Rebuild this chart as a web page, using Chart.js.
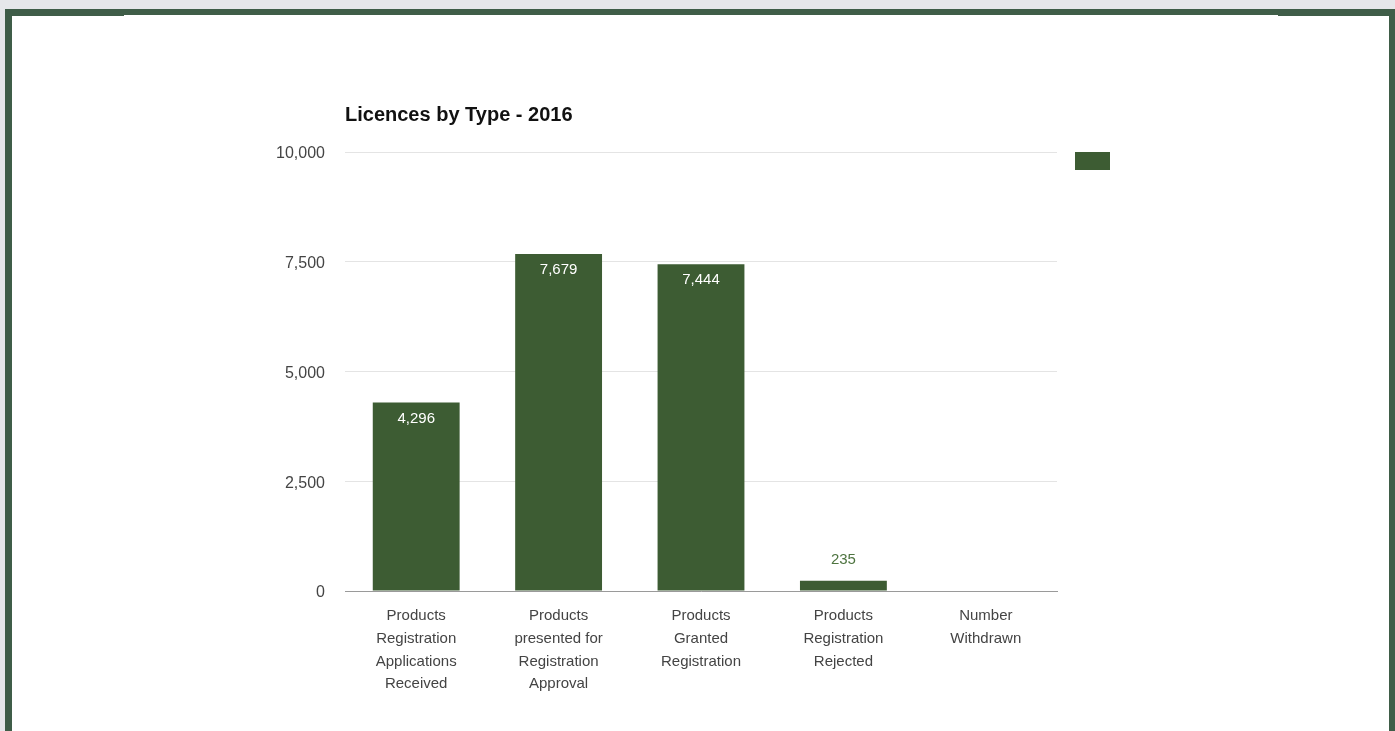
<!DOCTYPE html>
<html>
<head>
<meta charset="utf-8">
<title>Licences by Type - 2016</title>
<script src="https://cdn.jsdelivr.net/npm/chart.js@4.4.1/dist/chart.umd.min.js"></script>
<style>
    body { margin: 0; background: #e6e7ea; font-family: "Liberation Sans", Arial, sans-serif; }
    .frame { position: absolute; left: 5px; top: 9px; width: 1390px; height: 722px; background: #3f5d48; }
    .panel { position: absolute; left: 12px; top: 16px; width: 1377px; height: 715px; background: #ffffff; }
    .notch { position: absolute; left: 124px; top: 15px; width: 1154px; height: 1px; background: #ffffff; }
    .chart-box { position: absolute; left: 0; top: 0; width: 1395px; height: 731px; }
</style>
</head>
<body>
<div class="frame"></div>
<div class="panel"></div>
<div class="notch"></div>
<div class="chart-box"><canvas id="licenceChart"></canvas></div>

<script>
// Chart data
const categories = [
    ['Products', 'Registration', 'Applications', 'Received'],
    ['Products', 'presented for', 'Registration', 'Approval'],
    ['Products', 'Granted', 'Registration'],
    ['Products', 'Registration', 'Rejected'],
    ['Number', 'Withdrawn']
];
const licenceCounts = [4296, 7679, 7444, 235, 0];
const yTicks = [0, 2500, 5000, 7500, 10000];

const barColor = '#3d5c33';
const textGrey = '#444444';

function formatNumber(num) {
    return num.toString().replace(/\B(?=(\d{3})+(?!\d))/g, ",");
}

/**
 * Title, legend swatch and value labels
 */
const extrasPlugin = {
    id: 'extras',
    afterDraw: function(chart) {
        const ctx = chart.ctx;
        const area = chart.chartArea;
        ctx.save();

        // Title
        ctx.fillStyle = '#111111';
        ctx.font = 'bold 20px "Liberation Sans", Arial, sans-serif';
        ctx.textAlign = 'left';
        ctx.textBaseline = 'middle';
        ctx.fillText('Licences by Type - 2016', area.left, area.top - 37);

        // Legend swatch (no label in the original)
        ctx.fillStyle = barColor;
        ctx.fillRect(area.right + 18, area.top, 35, 18);

        // Value labels
        const meta = chart.getDatasetMeta(0);
        ctx.font = '15px "Liberation Sans", Arial, sans-serif';
        ctx.textAlign = 'center';
        meta.data.forEach(function(bar, i) {
            const value = licenceCounts[i];
            if (!value) return;
            const height = bar.base - bar.y;
            if (height > 30) {
                ctx.fillStyle = '#ffffff';
                ctx.fillText(formatNumber(value), bar.x, bar.y + 16);
            } else {
                ctx.fillStyle = '#4e7440';
                ctx.fillText(formatNumber(value), bar.x, bar.y - 21);
            }
        });
        ctx.restore();
    }
};

const licenceCtx = document.getElementById('licenceChart').getContext('2d');
new Chart(licenceCtx, {
    type: 'bar',
    data: {
        labels: categories,
        datasets: [{
            label: '',
            data: licenceCounts,
            backgroundColor: barColor,
            borderWidth: 0,
            categoryPercentage: 1,
            barPercentage: 0.61
        }]
    },
    options: {
        responsive: true,
        maintainAspectRatio: false,
        animation: false,
        layout: {
            padding: { left: 255, right: 338, top: 152, bottom: 0 }
        },
        plugins: {
            legend: { display: false },
            title: { display: false },
            tooltip: { enabled: false }
        },
        scales: {
            x: {
                grid: { display: false, drawTicks: false },
                border: { color: '#9a9a9a', width: 1 },
                ticks: {
                    color: textGrey,
                    padding: 13,
                    maxRotation: 0,
                    autoSkip: false,
                    font: { family: '"Liberation Sans", Arial, sans-serif', size: 15, lineHeight: 1.53 }
                },
                afterFit: function(scale) { scale.height = 140; }
            },
            y: {
                min: 0,
                max: 10000,
                afterBuildTicks: function(scale) {
                    scale.ticks = yTicks.map(function(v) { return { value: v }; });
                },
                grid: { color: '#e4e4e4', drawTicks: false },
                border: { display: false },
                ticks: {
                    color: textGrey,
                    padding: 20,
                    labelOffset: 2,
                    font: { family: '"Liberation Sans", Arial, sans-serif', size: 16 },
                    callback: function(value) { return formatNumber(value); }
                },
                afterFit: function(scale) { scale.width = 90; }
            }
        }
    },
    plugins: [extrasPlugin]
});
</script>
</body>
</html>
